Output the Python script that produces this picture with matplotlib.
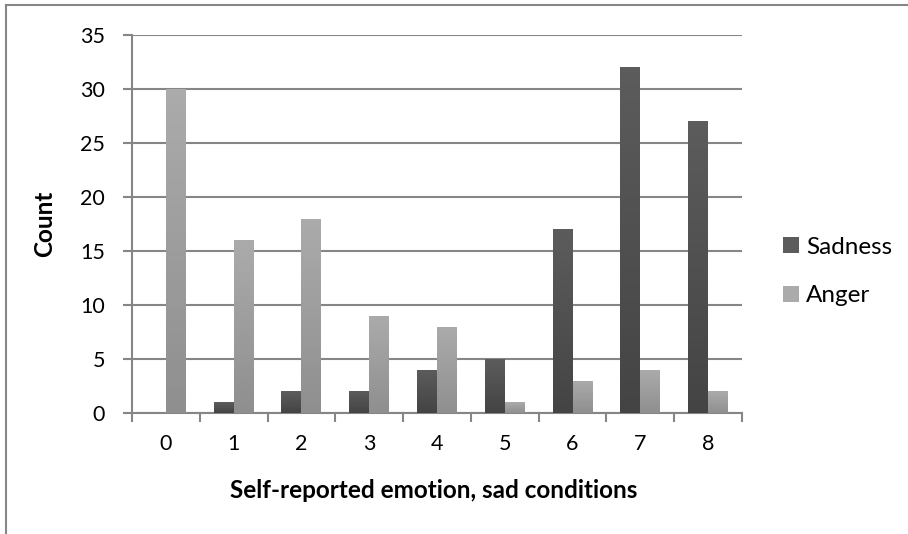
import matplotlib.pyplot as plt
import matplotlib
import numpy as np
from matplotlib.colors import LinearSegmentedColormap
from matplotlib.lines import Line2D

matplotlib.rcParams['font.family'] = ['Lato', 'DejaVu Sans']

categories = ['0', '1', '2', '3', '4', '5', '6', '7', '8']
sadness = [0, 1, 2, 2, 4, 5, 17, 32, 27]
anger = [30, 16, 18, 9, 8, 1, 3, 4, 2]
yticks = [0, 5, 10, 15, 20, 25, 30, 35]

GRAY = '#868686'

fig = plt.figure(figsize=(9.08, 5.34), dpi=100)
ax = fig.add_axes([132 / 908, (534 - 413) / 534, (742 - 132) / 908, (413 - 35) / 534])

# frame of the chart area (left and top edges)
fig.add_artist(Line2D([6 / 908, 6 / 908], [0, 1 - 5 / 534], transform=fig.transFigure,
                      color=GRAY, lw=1.5))
fig.add_artist(Line2D([6 / 908, 1], [1 - 5 / 534, 1 - 5 / 534], transform=fig.transFigure,
                      color=GRAY, lw=1.5))

x = np.arange(len(categories))
w = 0.295


def gradient_bars(xs, vals, top, bottom, label):
    bars = ax.bar(xs, vals, width=w, color=top, label=label, zorder=3)
    cmap = LinearSegmentedColormap.from_list('g', [bottom, top])
    grad = np.linspace(0, 1, 64).reshape(-1, 1)
    for b in bars:
        h = b.get_height()
        if h <= 0:
            continue
        x0 = b.get_x()
        im = ax.imshow(grad, cmap=cmap, aspect='auto', origin='lower',
                       extent=(x0, x0 + b.get_width(), 0, h), zorder=4)
        im.set_clip_path(b)
    return bars


gradient_bars(x - w / 2, sadness, '#5c5c5c', '#444444', 'Sadness')
gradient_bars(x + w / 2, anger, '#ababab', '#8f8f8f', 'Anger')

ax.set_xlim(-0.5, len(categories) - 0.5)
ax.set_ylim(0, 35)
ax.set_yticks(yticks)
ax.set_yticklabels([str(t) for t in yticks], fontsize=15.5)
ax.set_xticks(x)
ax.set_xticklabels(categories, fontsize=15.5)
ax.set_xticks(np.arange(-0.5, len(categories)), minor=True)

ax.grid(axis='y', color=GRAY, lw=1.5, zorder=0)
ax.set_axisbelow(True)
for s in ['top', 'right']:
    ax.spines[s].set_visible(False)
for s in ['left', 'bottom']:
    ax.spines[s].set_color(GRAY)
    ax.spines[s].set_linewidth(1.5)

ax.tick_params(axis='x', which='major', length=0, pad=15)
ax.tick_params(axis='x', which='minor', length=6.5, width=1.5, color=GRAY)
ax.tick_params(axis='y', length=6.5, width=1.5, color=GRAY, pad=13)

ax.set_xlabel('Self-reported emotion, sad conditions', fontsize=17.5, fontweight='bold', va='center')
ax.xaxis.set_label_coords(0.494, -(490 - 413) / 378)
ax.set_ylabel('Count', fontsize=17.5, fontweight='bold', va='center')
ax.yaxis.set_label_coords(-(132 - 45) / 610, 0.5)

leg = fig.legend(*ax.get_legend_handles_labels(), loc='center left',
                 bbox_to_anchor=(783 / 908, 1 - 271.5 / 534), frameon=False,
                 fontsize=17.5, handlelength=0.66, handleheight=0.66, handletextpad=0.3,
                 labelspacing=1.15, borderpad=0, borderaxespad=0)

fig.savefig('out.png', dpi=100)
